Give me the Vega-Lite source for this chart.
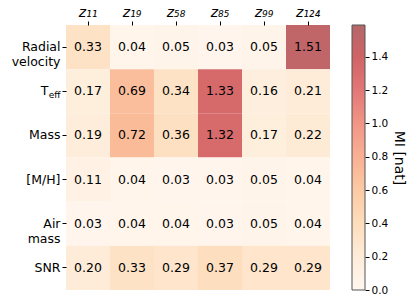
{
  "$schema": "https://vega.github.io/schema/vega-lite/v6.json",
  "padding": {"left": 11, "top": 5, "right": 5, "bottom": 5},
  "config": {
    "font": "DejaVu Sans",
    "view": {"stroke": null},
    "concat": {"spacing": 21},
    "axis": {"labelColor": "#000", "tickColor": "#000", "titleColor": "#000"}
  },
  "hconcat": [
    {
      "width": 264,
      "height": 265,
      "data": {
        "values": [
          {"row": "Radial velocity", "col": "z₁₁", "mi": 0.33},
          {"row": "Radial velocity", "col": "z₁₉", "mi": 0.04},
          {"row": "Radial velocity", "col": "z₅₈", "mi": 0.05},
          {"row": "Radial velocity", "col": "z₈₅", "mi": 0.03},
          {"row": "Radial velocity", "col": "z₉₉", "mi": 0.05},
          {"row": "Radial velocity", "col": "z₁₂₄", "mi": 1.51},
          {"row": "Teff", "col": "z₁₁", "mi": 0.17},
          {"row": "Teff", "col": "z₁₉", "mi": 0.69},
          {"row": "Teff", "col": "z₅₈", "mi": 0.34},
          {"row": "Teff", "col": "z₈₅", "mi": 1.33},
          {"row": "Teff", "col": "z₉₉", "mi": 0.16},
          {"row": "Teff", "col": "z₁₂₄", "mi": 0.21},
          {"row": "Mass", "col": "z₁₁", "mi": 0.19},
          {"row": "Mass", "col": "z₁₉", "mi": 0.72},
          {"row": "Mass", "col": "z₅₈", "mi": 0.36},
          {"row": "Mass", "col": "z₈₅", "mi": 1.32},
          {"row": "Mass", "col": "z₉₉", "mi": 0.17},
          {"row": "Mass", "col": "z₁₂₄", "mi": 0.22},
          {"row": "[M/H]", "col": "z₁₁", "mi": 0.11},
          {"row": "[M/H]", "col": "z₁₉", "mi": 0.04},
          {"row": "[M/H]", "col": "z₅₈", "mi": 0.03},
          {"row": "[M/H]", "col": "z₈₅", "mi": 0.03},
          {"row": "[M/H]", "col": "z₉₉", "mi": 0.05},
          {"row": "[M/H]", "col": "z₁₂₄", "mi": 0.04},
          {"row": "Air mass", "col": "z₁₁", "mi": 0.03},
          {"row": "Air mass", "col": "z₁₉", "mi": 0.04},
          {"row": "Air mass", "col": "z₅₈", "mi": 0.04},
          {"row": "Air mass", "col": "z₈₅", "mi": 0.03},
          {"row": "Air mass", "col": "z₉₉", "mi": 0.05},
          {"row": "Air mass", "col": "z₁₂₄", "mi": 0.04},
          {"row": "SNR", "col": "z₁₁", "mi": 0.20},
          {"row": "SNR", "col": "z₁₉", "mi": 0.33},
          {"row": "SNR", "col": "z₅₈", "mi": 0.29},
          {"row": "SNR", "col": "z₈₅", "mi": 0.37},
          {"row": "SNR", "col": "z₉₉", "mi": 0.29},
          {"row": "SNR", "col": "z₁₂₄", "mi": 0.29}
        ]
      },
      "layer": [
        {
          "mark": {"type": "rect"},
          "encoding": {
            "x": {
              "field": "col", "type": "nominal",
              "sort": ["z₁₁", "z₁₉", "z₅₈", "z₈₅", "z₉₉", "z₁₂₄"],
              "scale": {"paddingInner": 0, "paddingOuter": 0},
              "axis": {"orient": "top", "title": null, "labelAngle": 0, "domain": false, "tickSize": 4, "labelFontSize": 14, "labelFontStyle": "italic", "labelPadding": 2}
            },
            "y": {
              "field": "row", "type": "nominal",
              "sort": ["Radial velocity", "Teff", "Mass", "[M/H]", "Air mass", "SNR"],
              "scale": {"paddingInner": 0, "paddingOuter": 0},
              "axis": {
                "title": null, "domain": false, "tickSize": 4, "labelFontSize": 12.5,
                "labelExpr": "datum.value == 'Radial velocity' ? ['Radial', 'velocity'] : datum.value == 'Air mass' ? ['Air', 'mass'] : datum.value == 'Teff' ? 'T' : datum.value",
                "labelPadding": {"condition": {"test": "datum.value == 'Teff'", "value": 14}, "value": 2},
                "labelLineHeight": 15
              }
            },
            "color": {
              "field": "mi", "type": "quantitative",
              "scale": {
                "domain": [0, 0.2, 0.4, 0.6, 0.8, 1.0, 1.2, 1.4, 1.59],
                "range": ["#fff7f0", "#feecd9", "#fdddbc", "#fccaa5", "#f9b093", "#f19686", "#e27777", "#cf6365", "#b4676a"]
              },
              "legend": null
            }
          }
        },
        {
          "mark": {"type": "text", "fontSize": 12.5, "color": "#000"},
          "encoding": {
            "x": {"field": "col", "type": "nominal", "sort": ["z₁₁", "z₁₉", "z₅₈", "z₈₅", "z₉₉", "z₁₂₄"]},
            "y": {"field": "row", "type": "nominal", "sort": ["Radial velocity", "Teff", "Mass", "[M/H]", "Air mass", "SNR"], "axis": null},
            "text": {"field": "mi", "type": "quantitative", "format": ".2f"}
          }
        },
        {
          "mark": {"type": "rect", "opacity": 0},
          "encoding": {
            "y": {
              "field": "row", "type": "nominal",
              "sort": ["Radial velocity", "Teff", "Mass", "[M/H]", "Air mass", "SNR"],
              "axis": {"orient": "left", "title": null, "domain": false, "ticks": false, "tickSize": 0, "labelFontSize": 9, "labelOffset": 4, "labelPadding": 6,
                "labelExpr": "datum.value == 'Teff' ? 'eff' : ''"}
            }
          }
        }
      ],
      "resolve": {"axis": {"y": "independent"}}
    },
    {
      "width": 13,
      "height": 265,
      "data": {"values": [{"bar": "MI"}]},
      "mark": {
        "type": "rect",
        "filled": true,
        "fill": {
          "gradient": "linear", "x1": 0, "y1": 1, "x2": 0, "y2": 0,
          "stops": [
            {"offset": 0, "color": "#fff7f0"},
            {"offset": 0.1258, "color": "#feecd9"},
            {"offset": 0.2516, "color": "#fdddbc"},
            {"offset": 0.3774, "color": "#fccaa5"},
            {"offset": 0.5031, "color": "#f9b093"},
            {"offset": 0.6289, "color": "#f19686"},
            {"offset": 0.7547, "color": "#e27777"},
            {"offset": 0.8805, "color": "#cf6365"},
            {"offset": 1, "color": "#b4676a"}
          ]
        },
        "stroke": "#555",
        "strokeWidth": 1
      },
      "encoding": {
        "y": {
          "datum": 0, "type": "quantitative",
          "scale": {"domain": [0, 1.59], "nice": false, "zero": false},
          "axis": {"orient": "right", "values": [0, 0.2, 0.4, 0.6, 0.8, 1.0, 1.2, 1.4], "format": ".1f", "title": "MI [nat]", "titleAngle": 90, "titleFontSize": 14, "titleFontWeight": "normal", "titlePadding": 4, "titleBaseline": "bottom", "labelFontSize": 10.5, "domain": false, "grid": false, "tickSize": 4, "labelPadding": 2}
        },
        "y2": {"datum": 1.59}
      }
    }
  ]
}
